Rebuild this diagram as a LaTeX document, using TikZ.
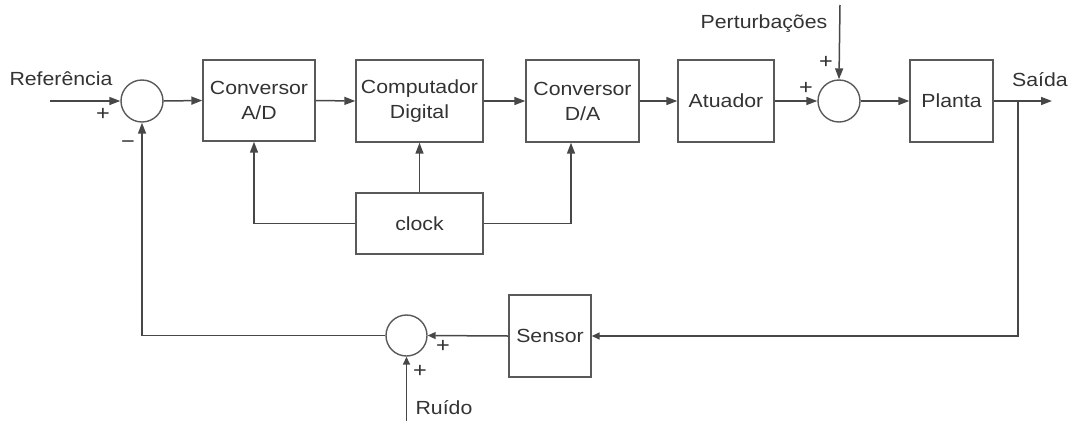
\documentclass[tikz,border=0pt]{standalone}
\usepackage{fontspec}
\setmainfont{Liberation Sans}[FakeStretch=1.12]
\usetikzlibrary{arrows.meta,positioning,calc}
\begin{document}
\begin{tikzpicture}[x=1pt,y=-1pt,
  every node/.style={text=black!80, font=\fontsize{19}{25}\selectfont},
  blk/.style={draw=black!65, line width=1.4pt, align=center, inner sep=0pt},
  sumc/.style={draw=black!65, line width=1.4pt, circle, inner sep=0pt, minimum size=42pt},
  conn/.style={draw=black!72, line width=1.5pt},
  arr/.style={conn, -{Triangle[length=11pt,width=8pt]}},
  sgn/.style={font=\fontsize{21}{24}\selectfont, inner sep=0pt}
]
\useasboundingbox (0,0) rectangle (1071,421);

% blocks
\node[blk, minimum width=112pt, minimum height=81pt] (AD) at (259,100.5) {Conversor\\A/D};
\node[blk, minimum width=127pt, minimum height=82pt] (CD) at (419.5,101) {Computador\\Digital};
\node[blk, minimum width=113pt, minimum height=82pt] (DA) at (582.5,101) {Conversor\\D/A};
\node[blk, minimum width=96pt, minimum height=82pt] (AT) at (726,101) {Atuador};
\node[blk, minimum width=83pt, minimum height=82pt] (PL) at (951.5,101) {Planta};
\node[blk, minimum width=127pt, minimum height=61pt] (CK) at (419.5,223.5) {clock};
\node[blk, minimum width=82pt, minimum height=82pt] (SE) at (550,336) {Sensor};

% summing junctions
\node[sumc] (S1) at (142,101) {};
\node[sumc] (S2) at (839,101) {};
\node[sumc, minimum size=41pt] (S3) at (406.5,335.5) {};

% free ends
\coordinate (ref) at (50,101);
\coordinate (pert) at (840,5);
\coordinate (ruido) at (406.5,421);
\coordinate (out) at (1052,101);
\coordinate (br) at (1018,101);

% text labels
\node (tRef) at (61,79) {Referência};
\node (tPert) at (764,24) {Perturbações};
\node (tSai) at (1040,80) {Saída};
\node (tRui) at (444,408) {Ruído};

\node[sgn] (p1) at (103,114) {+};
\node[sgn] (m1) at (128,145) {\textminus};
\node[sgn] (p2a) at (826,62) {+};
\node[sgn] (p2b) at (806,88) {+};
\node[sgn] (p3a) at (443,346) {+};
\node[sgn] (p3b) at (420,371) {+};

% forward path
\draw[arr] (ref) -- (S1.west);
\draw[arr] (S1.east) -- (AD.west);
\draw[arr] (AD.east) -- (CD.west);
\draw[arr] (CD.east) -- (DA.west);
\draw[arr] (DA.east) -- (AT.west);
\draw[arr] (AT.east) -- (S2.west);
\draw[arr] (pert) -- (S2.north);
\draw[arr] (S2.east) -- (PL.west);
\draw[arr] (PL.east) -- (out);

% clock
\draw[arr] (CK.west) -| ([xshift=-5pt]AD.south);
\draw[arr] (CK.north) -- (CD.south);
\draw[arr] (CK.east) -| ([xshift=-11.5pt]DA.south);

% feedback
\draw[arr, -{Triangle[length=8pt,width=7pt]}] (br) |- (SE.east);
\draw[arr, -{Triangle[length=8pt,width=7pt]}] (SE.west) -- (S3.east);
\draw[arr, -{Triangle[length=8pt,width=7pt]}] (ruido) -- (S3.south);
\draw[arr] (S3.west) -| (S1.south);
\end{tikzpicture}
\end{document}
